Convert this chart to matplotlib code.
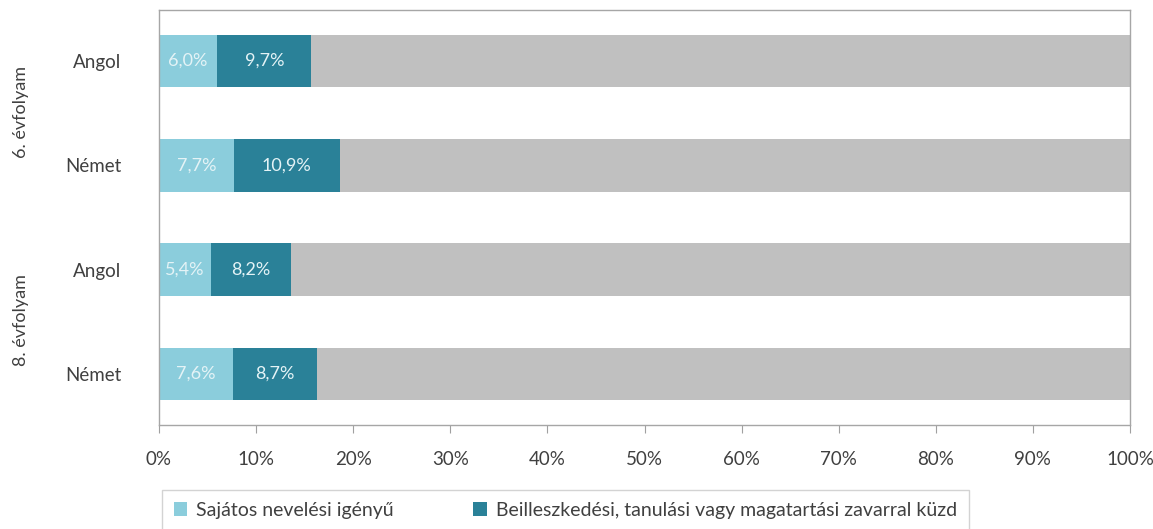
import matplotlib
matplotlib.use("Agg")
import matplotlib.pyplot as plt
import numpy as np

plt.rcParams['font.family'] = ['Lato', 'DejaVu Sans']

categories = ["Angol", "Német", "Angol", "Német"]
groups = ["6. évfolyam", "8. évfolyam"]
sni = [6.0, 7.7, 5.4, 7.6]
btm = [9.7, 10.9, 8.2, 8.7]
series_names = ["Sajátos nevelési igényű",
                "Beilleszkedési, tanulási vagy magatartási zavarral küzd"]
xticks = [0, 10, 20, 30, 40, 50, 60, 70, 80, 90, 100]

c_light = "#8bcddc"
c_dark = "#2a8198"
c_grey = "#c0c0c0"
txt = '#404040'

fig = plt.figure(figsize=(11.53, 5.29), dpi=100)
ax = fig.add_axes([159/1153, 1 - 425/529, (1130-159)/1153, (425-10)/529])

y = np.arange(len(categories))
sni_a = np.array(sni)
btm_a = np.array(btm)
rest = 100 - sni_a - btm_a
h = 0.505
b1 = ax.barh(y, sni_a, height=h, color=c_light, label=series_names[0])
b2 = ax.barh(y, btm_a, left=sni_a, height=h, color=c_dark, label=series_names[1])
b3 = ax.barh(y, rest, left=sni_a + btm_a, height=h, color=c_grey)

for i in range(len(categories)):
    ax.text(sni_a[i] / 2, y[i], f"{sni_a[i]:.1f}%".replace('.', ','),
            ha='center', va='center', color='#e4f3f6', fontsize=13)
    ax.text(sni_a[i] + btm_a[i] / 2, y[i], f"{btm_a[i]:.1f}%".replace('.', ','),
            ha='center', va='center', color='#e4f3f6', fontsize=13)

ax.set_xlim(0, 100)
ax.set_ylim(3.49, -0.49)
ax.set_yticks(y)
ax.set_yticklabels(categories, fontsize=13.5, color=txt)
ax.tick_params(axis='y', length=0, pad=27)
ax.set_xticks(xticks)
ax.set_xticklabels([f"{t}%" for t in xticks], fontsize=13.5, color=txt)
ax.tick_params(axis='x', length=6, color='#a0a0a0', pad=13, direction='out')
for s in ax.spines.values():
    s.set_color('#a6a6a6')
    s.set_linewidth(1.0)

# group labels
fig.text(21/1153, 1 - 112/529, groups[0], rotation=90, ha='center', va='center',
         fontsize=13, color=txt)
fig.text(21/1153, 1 - 320/529, groups[1], rotation=90, ha='center', va='center',
         fontsize=13, color=txt)

leg = fig.legend(handles=[b1, b2], labels=series_names, loc='upper left',
                 bbox_to_anchor=(162/1153, 1 - 490/529), ncol=2, fontsize=14,
                 frameon=True, fancybox=False, edgecolor='#c8c8c8',
                 handlelength=0.7, handleheight=0.7, handletextpad=0.45,
                 columnspacing=4.1, borderpad=0.6, borderaxespad=0)
leg.get_frame().set_linewidth(1.0)
for t in leg.get_texts():
    t.set_color(txt)

fig.savefig("out.png", dpi=100)
